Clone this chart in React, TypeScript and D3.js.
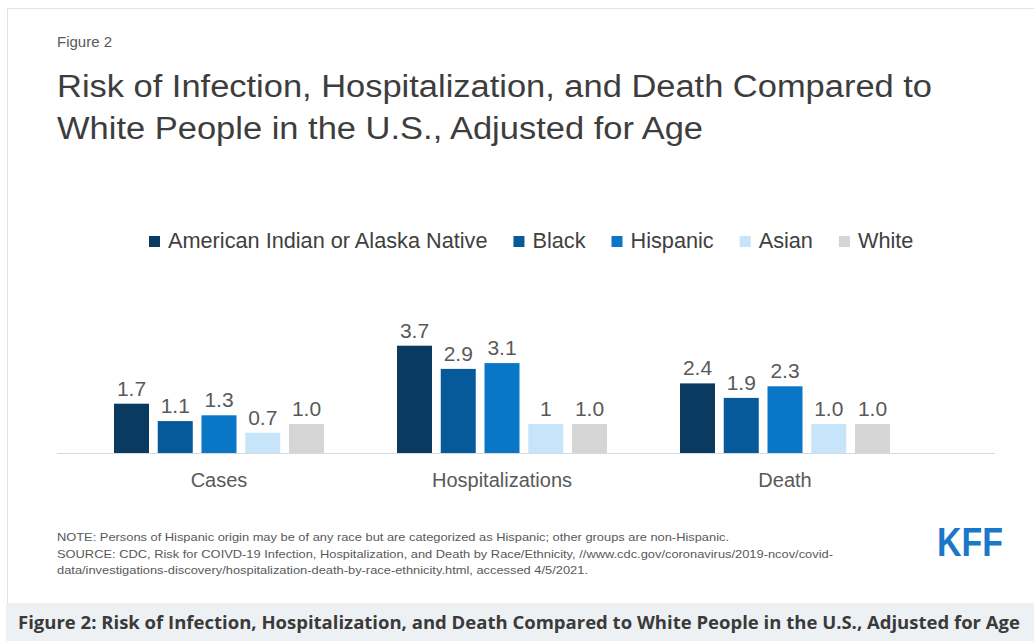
import React, { useEffect, useRef } from 'react';
import * as d3 from 'd3';

const categories = ['Cases', 'Hospitalizations', 'Death'];
const groups = ['American Indian or Alaska Native', 'Black', 'Hispanic', 'Asian', 'White'];
const groupColors = ['#0b3a60', '#065a9a', '#0a76c6', '#c6e5fb', '#d5d5d5'];

// values per group, in the order of categories
const aianValues = [1.7, 3.7, 2.4];
const blackValues = [1.1, 2.9, 1.9];
const hispanicValues = [1.3, 3.1, 2.3];
const asianValues = [0.7, 1.0, 1.0];
const whiteValues = [1.0, 1.0, 1.0];

// labels as printed on the chart
const aianLabels = ['1.7', '3.7', '2.4'];
const blackLabels = ['1.1', '2.9', '1.9'];
const hispanicLabels = ['1.3', '3.1', '2.3'];
const asianLabels = ['0.7', '1', '1.0'];
const whiteLabels = ['1.0', '1.0', '1.0'];

const seriesValues = [aianValues, blackValues, hispanicValues, asianValues, whiteValues];
const seriesLabels = [aianLabels, blackLabels, hispanicLabels, asianLabels, whiteLabels];

const figureLabel = 'Figure 2';
const titleLines = [
  'Risk of Infection, Hospitalization, and Death Compared to',
  'White People in the U.S., Adjusted for Age',
];
const noteLines = [
  'NOTE: Persons of Hispanic origin may be of any race but are categorized as Hispanic; other groups are non-Hispanic.',
  'SOURCE: CDC, Risk for COIVD-19 Infection,  Hospitalization, and Death by Race/Ethnicity,  //www.cdc.gov/coronavirus/2019-ncov/covid-',
  'data/investigations-discovery/hospitalization-death-by-race-ethnicity.html,  accessed 4/5/2021.',
];
const caption = 'Figure 2: Risk of Infection, Hospitalization, and Death Compared to White People in the U.S., Adjusted for Age';

const W = 1034;
const H = 641;
const FONT = '"Liberation Sans", Arial, Helvetica, sans-serif';

const App: React.FC = () => {
  const svgRef = useRef<SVGSVGElement>(null);

  useEffect(() => {
    if (!svgRef.current) return;
    const svg = d3.select(svgRef.current);
    svg.selectAll('*').remove();

    svg.append('rect').attr('width', W).attr('height', H).attr('fill', '#fff');

    // card border
    svg.append('rect')
      .attr('x', 7.5).attr('y', 8.5)
      .attr('width', W + 10).attr('height', 600)
      .attr('fill', 'none')
      .attr('stroke', '#e4e4e4');

    // header
    svg.append('text')
      .attr('x', 57).attr('y', 47)
      .attr('textLength', 55).attr('lengthAdjust', 'spacingAndGlyphs')
      .style('font-family', FONT).style('font-size', '14px').style('fill', '#595959')
      .text(figureLabel);

    const titleWidths = [875, 646];
    titleLines.forEach((line, i) => {
      svg.append('text')
        .attr('x', 57).attr('y', 97 + i * 42)
        .attr('textLength', titleWidths[i]).attr('lengthAdjust', 'spacingAndGlyphs')
        .style('font-family', FONT).style('font-size', '31px').style('fill', '#3d3d3d')
        .text(line);
    });

    // legend
    let lx = 149;
    groups.forEach((name, i) => {
      svg.append('rect')
        .attr('x', lx).attr('y', 236)
        .attr('width', 11).attr('height', 11)
        .attr('fill', groupColors[i]);
      const t = svg.append('text')
        .attr('x', lx + 19).attr('y', 248)
        .style('font-family', FONT).style('font-size', '21.7px').style('fill', '#404040')
        .text(name);
      const tw = (t.node() as SVGTextElement).getComputedTextLength();
      lx += 19 + tw + 26;
    });

    // scales
    const x0 = d3.scaleBand<string>()
      .domain(categories)
      .range([77.5, 926.5]);

    const x1 = d3.scaleBand<string>()
      .domain(groups)
      .range([0, 210])
      .paddingInner(0.2);

    const y = d3.scaleLinear().domain([0, 4]).range([453, 337]);

    const chart = svg.append('g');

    categories.forEach((cat, ci) => {
      const cx = (x0(cat) || 0) + x0.bandwidth() / 2 - 105;
      const g = chart.append('g').attr('transform', `translate(${cx},0)`);

      const rows = groups.map((gname, gi) => ({
        name: gname,
        value: seriesValues[gi][ci],
        label: seriesLabels[gi][ci],
        color: groupColors[gi],
      }));

      g.selectAll('rect.bar')
        .data(rows)
        .enter().append('rect')
        .attr('class', 'bar')
        .attr('x', d => x1(d.name) || 0)
        .attr('width', x1.bandwidth())
        .attr('y', d => y(d.value))
        .attr('height', d => y(0) - y(d.value))
        .attr('fill', d => d.color);

      g.selectAll('text.val')
        .data(rows)
        .enter().append('text')
        .attr('class', 'val')
        .attr('x', d => (x1(d.name) || 0) + x1.bandwidth() / 2)
        .attr('y', d => y(d.value) - 8)
        .attr('text-anchor', 'middle')
        .style('font-family', FONT).style('font-size', '21px').style('fill', '#595959')
        .text(d => d.label);

      chart.append('text')
        .attr('x', (x0(cat) || 0) + x0.bandwidth() / 2)
        .attr('y', 487)
        .attr('text-anchor', 'middle')
        .style('font-family', FONT).style('font-size', '20px').style('fill', '#595959')
        .text(cat);
    });

    // baseline
    chart.append('line')
      .attr('x1', 57).attr('x2', 995)
      .attr('y1', y(0) + 0.5).attr('y2', y(0) + 0.5)
      .attr('stroke', '#d9d9d9').attr('stroke-width', 1);

    // notes
    const noteWidths = [672, 776, 531];
    noteLines.forEach((line, i) => {
      svg.append('text')
        .attr('x', 57).attr('y', 541 + i * 16.5)
        .attr('textLength', noteWidths[i]).attr('lengthAdjust', 'spacingAndGlyphs')
        .style('font-family', FONT).style('font-size', '11.5px').style('fill', '#595959')
        .text(line);
    });

    // logo
    svg.append('text')
      .attr('x', 937).attr('y', 556)
      .attr('textLength', 66).attr('lengthAdjust', 'spacingAndGlyphs')
      .style('font-family', FONT).style('font-size', '40px').style('font-weight', 900)
      .style('fill', '#1a78c8')
      .text('KFF');

    // caption band
    svg.append('rect')
      .attr('x', 6).attr('y', 603)
      .attr('width', W).attr('height', H - 603)
      .attr('fill', '#eef1f3');

    svg.append('text')
      .attr('x', 18).attr('y', 629)
      .attr('textLength', 1002).attr('lengthAdjust', 'spacingAndGlyphs')
      .style('font-family', '"Open Sans", sans-serif').style('font-size', '17px')
      .style('font-weight', 700).style('fill', '#3a3a3a')
      .text(caption);
  }, []);

  return (
    <svg
      ref={svgRef}
      width={W}
      height={H}
      style={{ position: 'absolute', left: 0, top: 0 }}
    />
  );
};

export default App;
